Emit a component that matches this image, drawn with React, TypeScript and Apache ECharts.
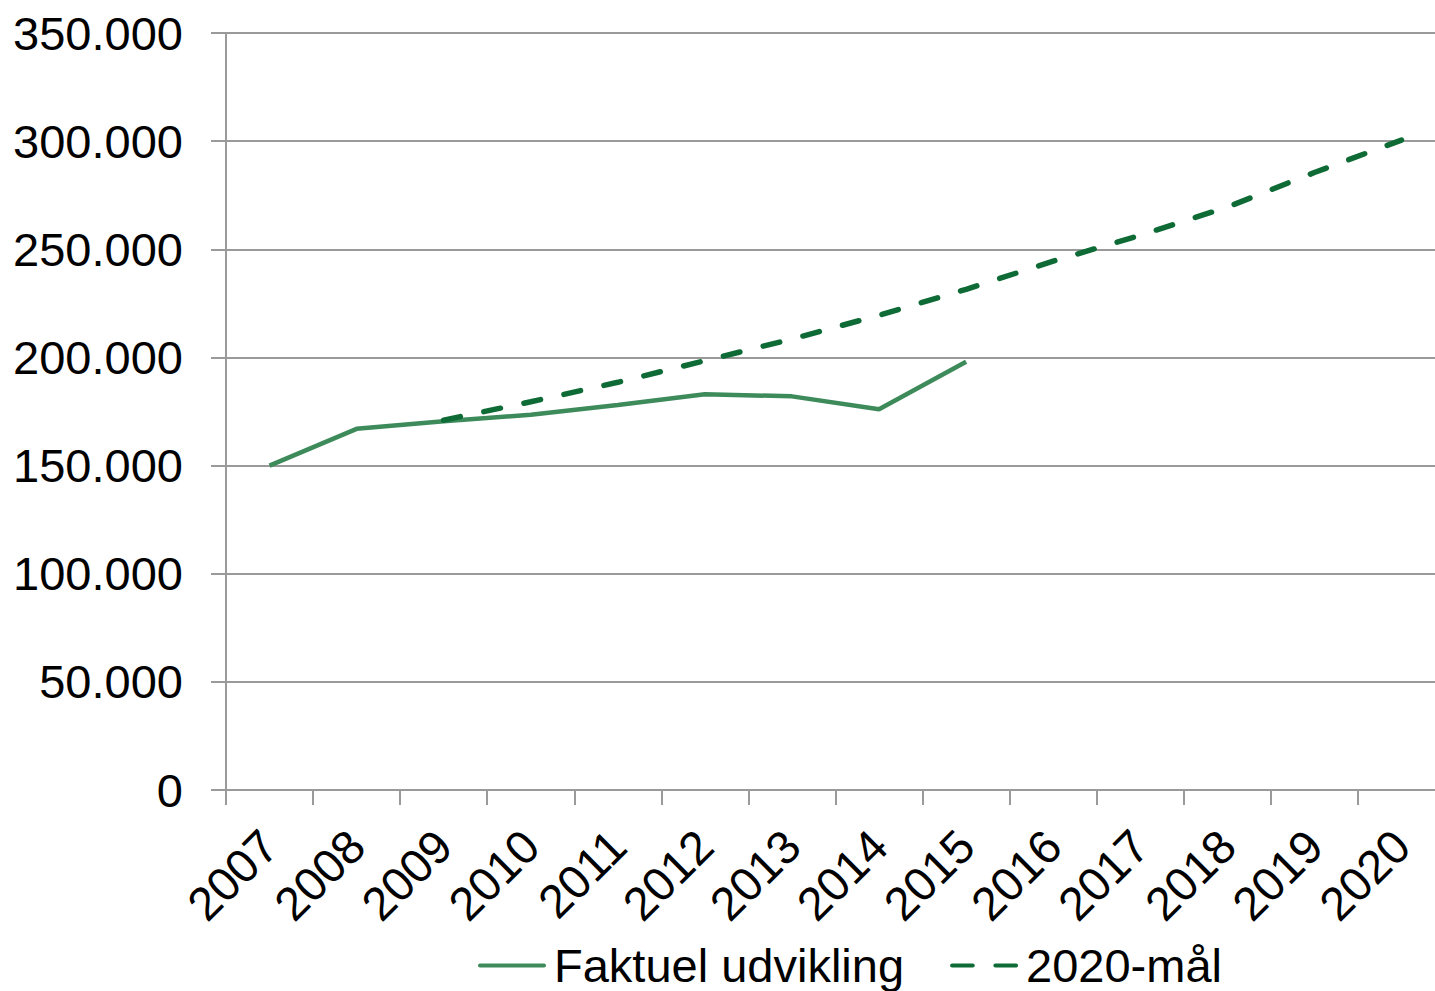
import React, { useEffect, useRef } from "react";
import * as echarts from "echarts";

const years = ["2007", "2008", "2009", "2010", "2011", "2012", "2013", "2014", "2015", "2016", "2017", "2018", "2019", "2020"];
const faktuel = [150000, 167000, 170500, 173500, 178000, 183000, 182000, 176000, 198000, null, null, null, null, null];
const maal = [null, null, 171000, 179500, 188500, 198500, 208500, 219500, 231500, 244500, 256500, 269500, 285500, 300500];
const yTicks = { min: 0, max: 350000, interval: 50000 };

const FONT = "'Liberation Sans', Arial, sans-serif";
const SOLID = "#3d8a5a";
const DASH = "#0e6b35";

function fmt(v: number): string {
  return String(v).replace(/\B(?=(\d{3})+(?!\d))/g, ".");
}

export default function App() {
  const ref = useRef<HTMLDivElement>(null);
  useEffect(() => {
    if (!ref.current) return;
    const chart = echarts.init(ref.current, null, { renderer: "svg" });
    chart.setOption({
      animation: false,
      backgroundColor: "#ffffff",
      textStyle: { fontFamily: FONT },
      grid: { left: 226, top: 33, width: 1219, height: 757, containLabel: false, outerBoundsMode: "none" },
      legend: {
        left: 473,
        top: 937,
        itemWidth: 68,
        itemHeight: 5,
        itemGap: 46,
        textStyle: { fontSize: 47, color: "#000", fontFamily: FONT, padding: [0, 0, 0, 3] },
        data: [
          {
            name: "Faktuel udvikling",
            icon: "path://M2,0 H66 A2,2 0 0 1 66,4 H2 A2,2 0 0 1 2,0 Z",
            itemStyle: { color: SOLID, borderWidth: 0 },
          },
          {
            name: "2020-mål",
            icon: "path://M2,0 H22 A2,2 0 0 1 22,4 H2 A2,2 0 0 1 2,0 Z M44,0 H64 A2,2 0 0 1 64,4 H44 A2,2 0 0 1 44,0 Z",
            itemStyle: { color: DASH, borderWidth: 0 },
          },
        ],
      },
      xAxis: {
        type: "category",
        data: years,
        boundaryGap: true,
        axisLine: { lineStyle: { color: "#9a9a9a", width: 2 } },
        axisTick: { show: true, length: 15, alignWithLabel: false, lineStyle: { color: "#9a9a9a", width: 2 } },
        axisLabel: { rotate: 45, fontSize: 47, color: "#000", fontFamily: FONT, margin: 48, interval: 0 },
        splitLine: { show: false },
      },
      yAxis: {
        type: "value",
        min: yTicks.min,
        max: yTicks.max,
        interval: yTicks.interval,
        axisLine: { show: true, lineStyle: { color: "#9a9a9a", width: 2 } },
        axisTick: { show: true, length: 15, lineStyle: { color: "#9a9a9a", width: 2 } },
        axisLabel: { fontSize: 47, color: "#000", fontFamily: FONT, margin: 43, formatter: (v: number) => fmt(v) },
        splitLine: { show: true, lineStyle: { color: "#9a9a9a", width: 2 } },
      },
      series: [
        {
          name: "Faktuel udvikling",
          type: "line",
          data: faktuel,
          symbol: "none",
          showSymbol: false,
          connectNulls: false,
          lineStyle: { color: SOLID, width: 4.5 },
          itemStyle: { color: SOLID },
          z: 3,
        },
        {
          name: "2020-mål",
          type: "line",
          data: maal,
          symbol: "none",
          showSymbol: false,
          lineStyle: { color: DASH, width: 5.5, type: [17, 24], cap: "round" },
          itemStyle: { color: DASH },
          z: 4,
        },
      ],
    });
    return () => chart.dispose();
  }, []);
  return (
    <div
      ref={ref}
      style={{ position: "fixed", left: 0, top: 0, width: 1435, height: 991, background: "#fff" }}
    />
  );
}
